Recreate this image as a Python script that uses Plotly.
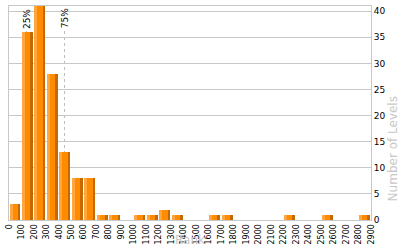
import plotly.graph_objects as go

bin_starts = list(range(0, 2900, 100))
counts = [3, 36, 41, 28, 13, 8, 8, 1, 1, 0, 1, 1, 2, 1, 0, 0, 1, 1, 0, 0, 0, 0, 1, 0, 0, 1, 0, 0, 1]
tick_vals = list(range(0, 3000, 100))
tick_text = [str(v) for v in tick_vals]
quantile_labels = ["25%", "75%"]
quantile_vals = [140, 445]

fig = go.Figure()
# main body of each bar
fig.add_trace(go.Bar(x=bin_starts, y=counts, width=88, offset=4,
                     marker=dict(color="#FF8C00", line=dict(width=0)), hoverinfo="skip"))
# light left strip
fig.add_trace(go.Bar(x=bin_starts, y=counts, width=24, offset=4,
                     marker=dict(color="#FFA640", line=dict(width=0)), hoverinfo="skip"))
# dark right strip
fig.add_trace(go.Bar(x=bin_starts, y=counts, width=22, offset=70,
                     marker=dict(color="#C46800", line=dict(width=0)), hoverinfo="skip"))

for lab, q in zip(quantile_labels, quantile_vals):
    fig.add_shape(type="line", x0=q, x1=q, xref="x", yref="paper", y0=0, y1=0.89,
                  line=dict(color="#BBBBBB", width=1, dash="3px,3px"), layer="below")
    fig.add_annotation(x=q, y=0.885, xref="x", yref="paper", text=lab, textangle=-90,
                       showarrow=False, xanchor="center", yanchor="bottom",
                       font=dict(family="DejaVu Sans", size=9, color="#000000"))

fig.add_annotation(text="Rank", x=0.5, y=0, yshift=-11, xref="paper", yref="paper",
                   xanchor="center", yanchor="top", showarrow=False,
                   font=dict(family="DejaVu Sans", size=12, color="#C8C8C8"))
fig.add_annotation(text="Number of Levels", x=1, xshift=13, y=0.33, xref="paper", yref="paper",
                   xanchor="left", yanchor="middle", textangle=-90, showarrow=False,
                   font=dict(family="DejaVu Sans", size=12, color="#C8C8C8"))

fig.update_layout(
    width=400, height=250, margin=dict(l=5, r=29, t=5, b=30),
    paper_bgcolor="white", plot_bgcolor="white", showlegend=False,
    barmode="overlay", bargap=0,
    xaxis=dict(range=[0, 2900], tickvals=tick_vals, ticktext=tick_text, tickangle=-90,
               showgrid=False, zeroline=False, showline=True, linecolor="#C8C8C8", mirror=True,
               ticks="", tickfont=dict(family="DejaVu Sans", size=8, color="#000000")),
    yaxis=dict(range=[0, 41], dtick=5, side="right", showgrid=True, gridcolor="#C8C8C8",
               zeroline=False, showline=True, linecolor="#C8C8C8", mirror=True, ticks="",
               tickfont=dict(family="DejaVu Sans", size=9, color="#000000")),
)
fig.write_html("out.html")
